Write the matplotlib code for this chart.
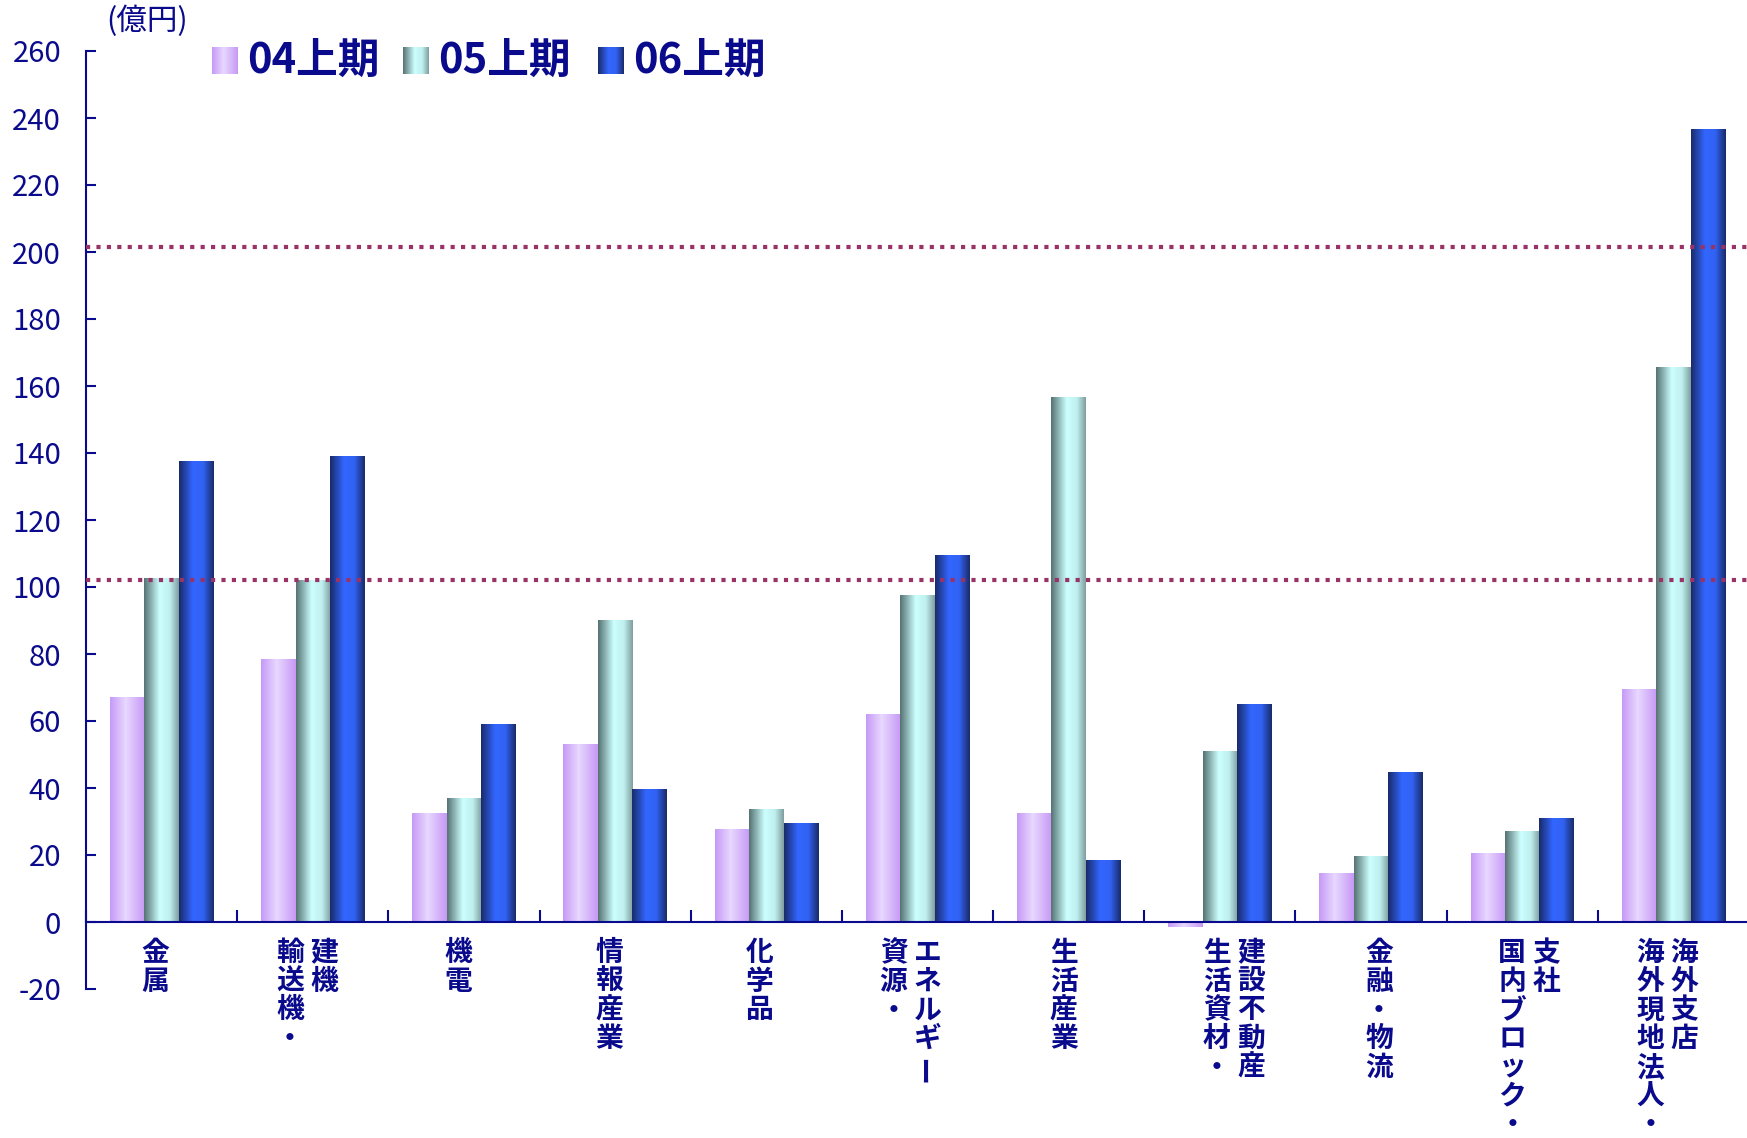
import numpy as np
import matplotlib.pyplot as plt
from matplotlib.colors import LinearSegmentedColormap

plt.rcParams['font.family'] = ['Noto Sans CJK JP', 'DejaVu Sans']

# 区分ラベル（縦書き、右の列から順に）
label_cols = [
    ["金属"],
    ["建機", "輸送機・"],
    ["機電"],
    ["情報産業"],
    ["化学品"],
    ["エネルギー", "資源・"],
    ["生活産業"],
    ["建設不動産", "生活資材・"],
    ["金融・物流"],
    ["支社", "国内ブロック・"],
    ["海外支店", "海外現地法人・"],
]
series = ["04上期", "05上期", "06上期"]
v04 = [67, 78.5, 32.5, 53, 27.5, 62, 32.5, -1.5, 14.5, 20.5, 69.5]
v05 = [102.5, 102, 37, 90, 33.5, 97.5, 156.5, 51, 19.5, 27, 165.5]
v06 = [137.5, 139, 59, 39.5, 29.5, 109.5, 18.5, 65, 44.5, 31, 236.5]
ref_lines = [102, 201.5]
yticks = list(range(-20, 261, 20))

navy = '#0a0a8c'
cmaps = [
    LinearSegmentedColormap.from_list('c04', [(0, '#c69af6'), (0.45, '#e8d8ff'), (1, '#c799f5')]),
    LinearSegmentedColormap.from_list('c05', [(0, '#577373'), (0.45, '#ccffff'), (0.75, '#bfeeee'), (1, '#7f9f9f')]),
    LinearSegmentedColormap.from_list('c06', [(0, '#192b6b'), (0.4, '#3366ff'), (0.7, '#3162f2'), (1, '#192b6b')]),
]
grad = np.linspace(0, 1, 64).reshape(1, -1)

fig = plt.figure(figsize=(17.47, 11.38), dpi=100)
ax = fig.add_axes([86 / 1747, 1 - 989 / 1138, 1663 / 1747, (989 - 51) / 1138])

n = len(label_cols)
x = np.arange(n)
w = 0.228
for k, vals in enumerate([v04, v05, v06]):
    bars = ax.bar(x + (k - 1) * w, vals, w, color='none', edgecolor='none')
    for r in bars:
        x0, y0 = r.get_x(), r.get_y()
        ax.imshow(grad, cmap=cmaps[k], aspect='auto', interpolation='bilinear',
                  extent=[x0, x0 + r.get_width(), y0, y0 + r.get_height()], zorder=2)

for yv in ref_lines:
    ax.axhline(yv, color='#993366', lw=3, linestyle=(0, (1, 1.5)),
               dash_capstyle='butt', zorder=4)

ax.set_xlim(-0.5, n - 0.5)
ax.set_ylim(-20, 260)
ax.set_yticks(yticks)
ax.set_yticklabels([str(t) for t in yticks], fontsize=21, color=navy)
ax.set_xticks(np.arange(n + 1) - 0.5)
ax.set_xticklabels([])
ax.tick_params(axis='y', direction='in', length=7, width=1.5, color=navy, pad=18)
ax.tick_params(axis='x', direction='in', length=9, width=1.5, color=navy)
ax.spines['bottom'].set_position(('data', 0))
for s in ['top', 'right']:
    ax.spines[s].set_visible(False)
for s in ['left', 'bottom']:
    ax.spines[s].set_color(navy)
    ax.spines[s].set_linewidth(1.5)

# 縦書きラベル
shift_px = [-6, -6, -6, -6, -7, -7, -5, 14, 8, 7, -6]
col_gap = 34
pitch = 28.6
for i, cols in enumerate(label_cols):
    nc = len(cols)
    for c, col in enumerate(cols):
        cx = shift_px[i] + ((nc - 1) / 2 - c) * col_gap
        for k, ch in enumerate(col):
            rot = 90 if ch == 'ー' else 0
            ax.annotate(ch, xy=(i, 0), xycoords='data',
                        xytext=(cx, -(17 + pitch * k + pitch / 2)), textcoords='offset pixels',
                        ha='center', va='center', rotation=rot, rotation_mode='anchor',
                        fontsize=20, fontweight='bold', color=navy, annotation_clip=False)

fig.text(106 / 1747, 1 - 6 / 1138, "(億円)", fontsize=22, color=navy, ha='left', va='top')

# 凡例
sq_x = [212, 403, 598]
for k, name in enumerate(series):
    lax = fig.add_axes([sq_x[k] / 1747, 1 - 74 / 1138, 26 / 1747, 27 / 1138])
    lax.imshow(grad, cmap=cmaps[k], aspect='auto', interpolation='bilinear')
    lax.axis('off')
    fig.text((sq_x[k] + 35) / 1747, 1 - 61 / 1138, name, fontsize=30, fontweight='bold',
             color=navy, ha='left', va='center')

fig.savefig('out.png', dpi=100)
